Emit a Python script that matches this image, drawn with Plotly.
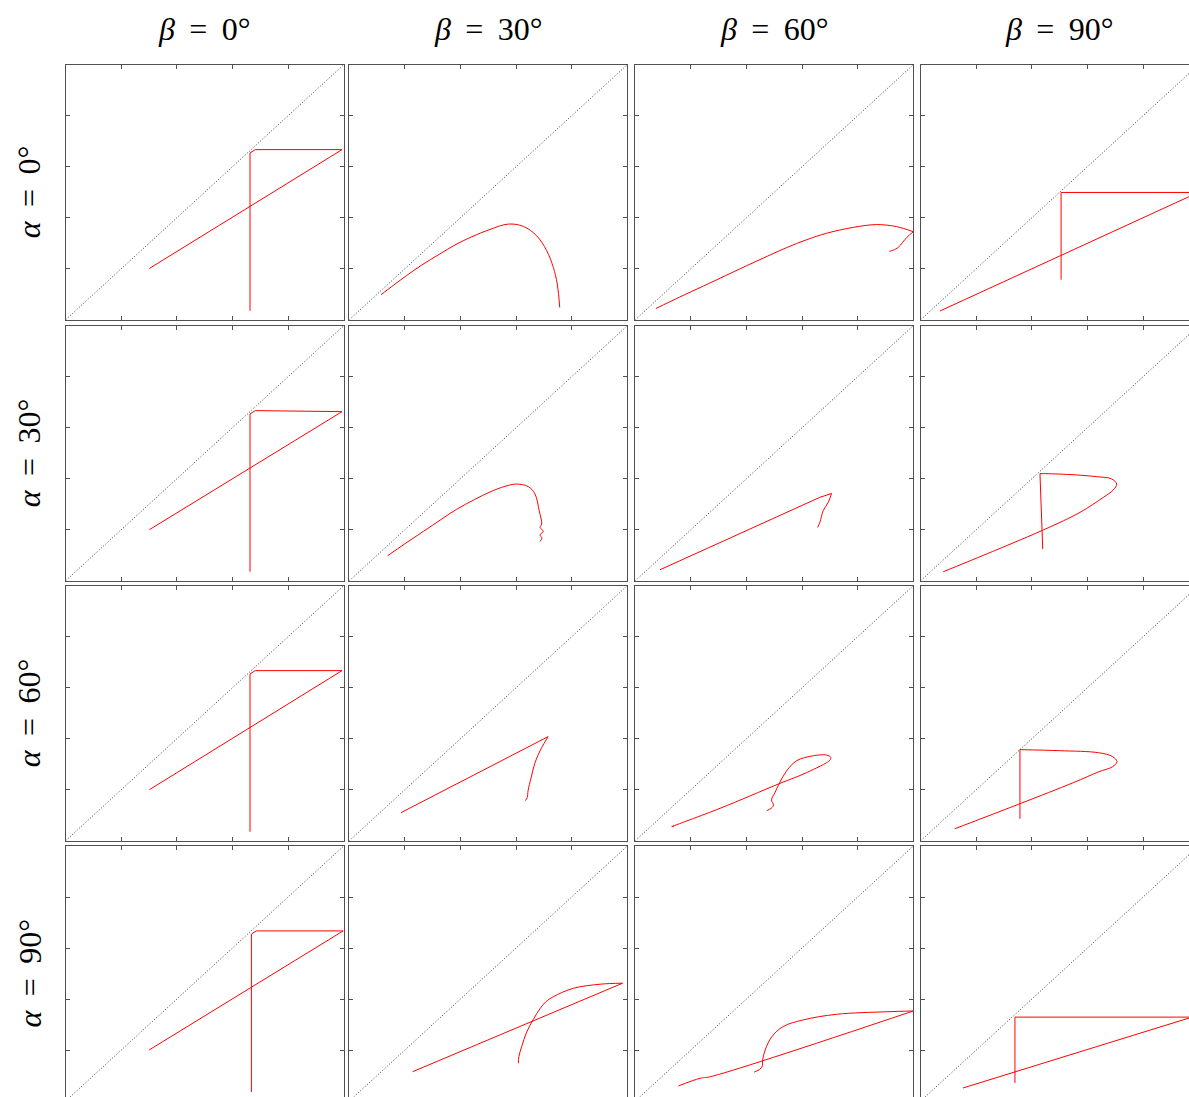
import plotly.graph_objects as go

# ---------------- data ----------------
beta_labels = ["<i>β</i>&#8201; = &#8201;0°", "<i>β</i>&#8201; = &#8201;30°",
               "<i>β</i>&#8201; = &#8201;60°", "<i>β</i>&#8201; = &#8201;90°"]
alpha_labels = ["<i>α</i>&#8201; = &#8201;0°", "<i>α</i>&#8201; = &#8201;30°",
                "<i>α</i>&#8201; = &#8201;60°", "<i>α</i>&#8201; = &#8201;90°"]
tick_vals = [0.2, 0.4, 0.6, 0.8]
diag_x = [0, 1]
diag_y = [0, 1]

r1c1_x = [0.663, 0.663, 0.682, 0.994, 0.301]
r1c1_y = [0.035, 0.654, 0.667, 0.667, 0.201]
r1c2_x = [0.114, 0.16, 0.206, 0.26, 0.326, 0.38, 0.44, 0.506, 0.572, 0.626, 0.674, 0.71, 0.734, 0.748, 0.757]
r1c2_y = [0.098, 0.136, 0.173, 0.214, 0.258, 0.293, 0.325, 0.354, 0.375, 0.366, 0.329, 0.271, 0.205, 0.14, 0.048]
r1c3_x = [0.074, 0.16, 0.245, 0.325, 0.401, 0.475, 0.545, 0.615, 0.688, 0.784, 0.868, 0.94, 1.0, 0.977, 0.946, 0.928, 0.914]
r1c3_y = [0.044, 0.089, 0.132, 0.173, 0.212, 0.249, 0.283, 0.313, 0.339, 0.362, 0.373, 0.365, 0.345, 0.323, 0.284, 0.273, 0.268]
r1c4_x = [0.505, 0.505, 1.0, 1.0, 0.069]
r1c4_y = [0.157, 0.499, 0.499, 0.5, 0.034]

r2c1_x = [0.663, 0.663, 0.682, 0.994, 0.301]
r2c1_y = [0.035, 0.654, 0.667, 0.663, 0.2]
r2c2_x = [0.138, 0.2, 0.266, 0.33, 0.386, 0.45, 0.506, 0.56, 0.602, 0.644, 0.668, 0.683, 0.692, 0.686, 0.698, 0.686, 0.693, 0.686]
r2c2_y = [0.098, 0.145, 0.193, 0.24, 0.28, 0.318, 0.348, 0.37, 0.379, 0.369, 0.34, 0.275, 0.222, 0.209, 0.193, 0.18, 0.167, 0.154]
r2c3_x = [0.089, 0.401, 0.664, 0.706, 0.694, 0.676, 0.664, 0.656]
r2c3_y = [0.043, 0.196, 0.327, 0.342, 0.307, 0.275, 0.229, 0.209]
r2c4_x = [0.439, 0.429, 0.435, 0.525, 0.633, 0.687, 0.705, 0.693, 0.657, 0.573, 0.441, 0.081]
r2c4_y = [0.124, 0.42, 0.42, 0.417, 0.408, 0.399, 0.379, 0.356, 0.327, 0.268, 0.199, 0.035]

r3c1_x = [0.663, 0.663, 0.682, 0.994, 0.301]
r3c1_y = [0.035, 0.654, 0.667, 0.667, 0.2]
r3c2_x = [0.186, 0.715, 0.69, 0.668, 0.654, 0.643, 0.64, 0.633]
r3c2_y = [0.11, 0.408, 0.361, 0.306, 0.247, 0.196, 0.169, 0.157]
r3c3_x = [0.473, 0.49, 0.497, 0.49, 0.503, 0.518, 0.545, 0.581, 0.64, 0.688, 0.703, 0.7, 0.616, 0.514, 0.305, 0.131, 0.14]
r3c3_y = [0.118, 0.128, 0.14, 0.16, 0.19, 0.225, 0.275, 0.314, 0.333, 0.336, 0.327, 0.316, 0.267, 0.222, 0.127, 0.055, 0.058]
r3c4_x = [0.357, 0.357, 0.5, 0.64, 0.69, 0.706, 0.69, 0.64, 0.55, 0.357, 0.123]
r3c4_y = [0.086, 0.357, 0.353, 0.345, 0.33, 0.31, 0.29, 0.27, 0.228, 0.145, 0.047]

r4c1_x = [0.668, 0.668, 0.686, 0.998, 0.3]
r4c1_y = [0.035, 0.655, 0.667, 0.667, 0.2]
r4c2_x = [0.228, 0.983, 0.902, 0.806, 0.734, 0.706, 0.686, 0.662, 0.638, 0.62, 0.61, 0.608]
r4c2_y = [0.115, 0.462, 0.458, 0.442, 0.409, 0.388, 0.362, 0.32, 0.27, 0.213, 0.174, 0.148]
r4c3_x = [0.155, 0.233, 0.269, 1.0, 0.904, 0.724, 0.604, 0.532, 0.491, 0.467, 0.458, 0.455, 0.428]
r4c3_y = [0.059, 0.089, 0.095, 0.353, 0.35, 0.34, 0.318, 0.292, 0.252, 0.2, 0.161, 0.132, 0.113]
r4c4_x = [0.339, 0.339, 1.0, 1.0, 0.152]
r4c4_y = [0.071, 0.329, 0.329, 0.337, 0.051]

curves = [
    [(r1c1_x, r1c1_y), (r1c2_x, r1c2_y), (r1c3_x, r1c3_y), (r1c4_x, r1c4_y)],
    [(r2c1_x, r2c1_y), (r2c2_x, r2c2_y), (r2c3_x, r2c3_y), (r2c4_x, r2c4_y)],
    [(r3c1_x, r3c1_y), (r3c2_x, r3c2_y), (r3c3_x, r3c3_y), (r3c4_x, r3c4_y)],
    [(r4c1_x, r4c1_y), (r4c2_x, r4c2_y), (r4c3_x, r4c3_y), (r4c4_x, r4c4_y)],
]
# how each curve is drawn: (first index, last index, line shape)
segments = {
    (0, 1): [(0, None, "spline")],
    (0, 2): [(0, 12, "spline"), (12, None, "spline")],
    (1, 1): [(0, None, "spline")],
    (1, 2): [(0, 3, "linear"), (3, None, "spline")],
    (1, 3): [(0, 2, "linear"), (1, None, "spline")],
    (2, 1): [(0, 1, "linear"), (1, None, "spline")],
    (2, 2): [(0, None, "spline")],
    (2, 3): [(0, 1, "linear"), (1, None, "spline")],
    (3, 1): [(0, 1, "linear"), (1, None, "spline")],
    (3, 2): [(0, 3, "spline"), (3, None, "spline")],
}

# ---------------- layout geometry (pixels) ----------------
W, H = 1200, 1105
col_left = [65.7, 349.3, 635.3, 920.7]
row_top = [64.7, 325.7, 585.7, 846.0]
pw, ph = 278, 255
frame_col = "#505050"

fig = go.Figure()
layout = {}
k = 0
for r in range(4):
    for c in range(4):
        k += 1
        xa = "x" if k == 1 else f"x{k}"
        ya = "y" if k == 1 else f"y{k}"
        fig.add_trace(go.Scatter(x=diag_x, y=diag_y, mode="lines", xaxis=xa, yaxis=ya,
                                 line=dict(color="#3a3a3a", width=1, dash="1px,2px"),
                                 hoverinfo="skip", showlegend=False))
        cx, cy = curves[r][c]
        segs = segments.get((r, c), [(0, None, "linear")])
        for (i0, i1, shape) in segs:
            e = None if i1 is None else i1 + 1
            fig.add_trace(go.Scatter(x=cx[i0:e], y=cy[i0:e], mode="lines", xaxis=xa, yaxis=ya,
                                     line=dict(color="#ff0000", width=1, shape=shape, smoothing=1.0),
                                     showlegend=False))
        ax_common = dict(range=[0, 1], showgrid=False, zeroline=False, showticklabels=False,
                         ticks="inside", ticklen=4, tickwidth=1, tickcolor=frame_col,
                         tickvals=tick_vals, showline=True, linecolor=frame_col, linewidth=1,
                         mirror="ticks", fixedrange=True)
        x0 = col_left[c] / W
        x1 = (col_left[c] + pw) / W
        y1 = 1 - row_top[r] / H
        y0 = 1 - (row_top[r] + ph) / H
        layout["xaxis" if k == 1 else f"xaxis{k}"] = dict(ax_common, domain=[x0, min(x1, 1)], anchor=ya)
        layout["yaxis" if k == 1 else f"yaxis{k}"] = dict(ax_common, domain=[max(y0, 0), y1], anchor=xa)

annotations = []
for c, lab in enumerate(beta_labels):
    annotations.append(dict(text=lab, x=(col_left[c] + pw / 2) / W, y=1 - 29 / H,
                            xref="paper", yref="paper", showarrow=False,
                            xanchor="center", yanchor="middle",
                            font=dict(family="Liberation Serif", size=32, color="black")))
for r, lab in enumerate(alpha_labels):
    annotations.append(dict(text=lab, x=29 / W, y=1 - (row_top[r] + ph / 2) / H,
                            xref="paper", yref="paper", showarrow=False, textangle=-90,
                            xanchor="center", yanchor="middle",
                            font=dict(family="Liberation Serif", size=32, color="black")))

fig.update_layout(width=W, height=H, margin=dict(l=0, r=0, t=0, b=0),
                  paper_bgcolor="white", plot_bgcolor="white",
                  annotations=annotations, **layout)

fig.write_html("out.html", config={"displayModeBar": False},
               post_script="document.body.style.margin='0px';document.body.style.overflow='hidden';")
